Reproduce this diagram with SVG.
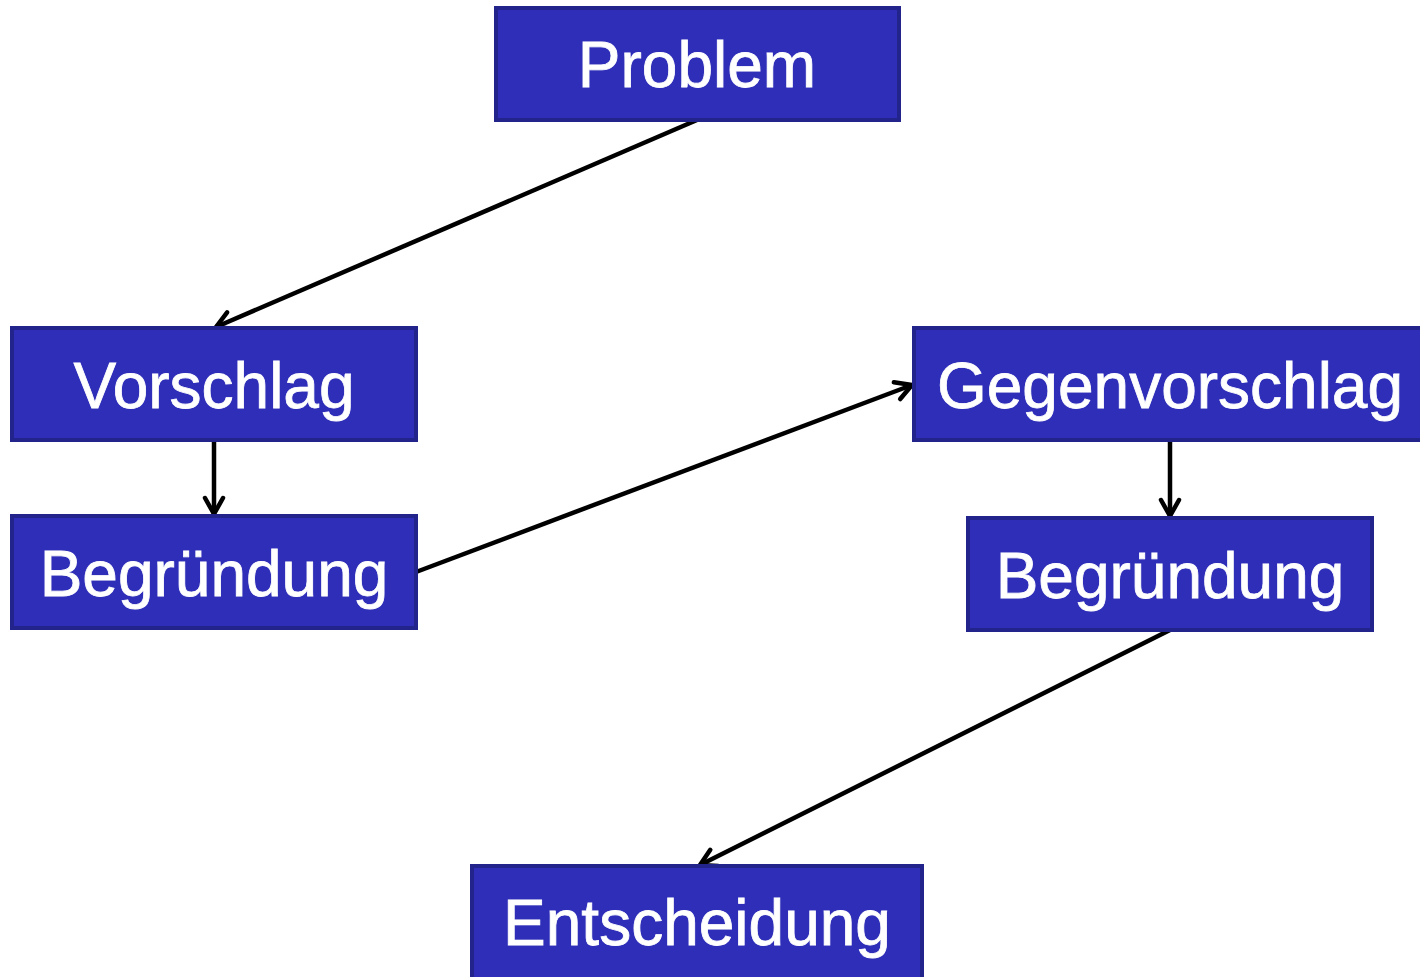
<svg xmlns="http://www.w3.org/2000/svg" width="1420" height="977" viewBox="0 0 1420 977">
<defs>
<style>
.box{fill:#2E2EB8;stroke:#23238C;stroke-width:4}
.lbl{fill:#fff;font-family:"Liberation Sans",Arial,sans-serif;font-size:64px;text-anchor:middle;stroke:#fff;stroke-width:0.8}
.edge{stroke:#000;stroke-width:4.5;fill:none;marker-end:url(#arr)}
</style>
<marker id="arr" viewBox="0 0 24 24" refX="21" refY="12" markerWidth="24" markerHeight="24" markerUnits="userSpaceOnUse" orient="auto">
<path d="M5,3 L21,12 L5,21" fill="none" stroke="#000" stroke-width="4.5" stroke-linecap="round" stroke-linejoin="round"/>
</marker>
</defs>
<rect width="1420" height="977" fill="#fff"/>
<g id="connectors">
<line class="edge" x1="697" y1="120" x2="216" y2="327"/>
<line class="edge" x1="214" y1="440" x2="214" y2="514"/>
<line class="edge" x1="416" y1="572" x2="912" y2="385"/>
<line class="edge" x1="1170" y1="440" x2="1170" y2="516"/>
<line class="edge" x1="1170" y1="630" x2="700" y2="865"/>
</g>
<g id="problem"><rect class="box" x="496" y="8" width="403" height="112"/><text class="lbl" x="697" y="87">Problem</text></g>
<g id="vorschlag"><rect class="box" x="12" y="328" width="404" height="112"/><text class="lbl" x="214" y="408">Vorschlag</text></g>
<g id="begruendung1"><rect class="box" x="12" y="516" width="404" height="112"/><text class="lbl" x="214" y="596">Begründung</text></g>
<g id="gegenvorschlag"><rect class="box" x="914" y="328" width="510" height="112"/><text class="lbl" x="1170" y="408">Gegenvorschlag</text></g>
<g id="begruendung2"><rect class="box" x="968" y="518" width="404" height="112"/><text class="lbl" x="1170" y="598">Begründung</text></g>
<g id="entscheidung"><rect class="box" x="472" y="866" width="450" height="118"/><text class="lbl" x="697" y="945">Entscheidung</text></g>
</svg>
